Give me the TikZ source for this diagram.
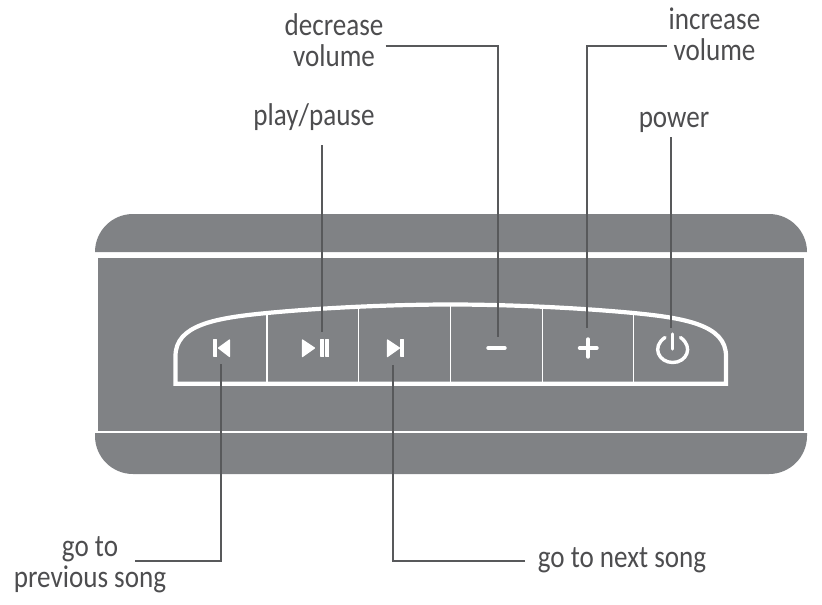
\documentclass[tikz,border=0pt]{standalone}
\usepackage{fontspec}
\setmainfont[FakeStretch=0.86]{Carlito}
\usepackage{tikz}
\usetikzlibrary{positioning}
\definecolor{casegrey}{HTML}{808285}
\definecolor{linegrey}{HTML}{58595B}
\definecolor{textgrey}{HTML}{4D4D4F}

\begin{document}
\begin{tikzpicture}
        [
            x=1pt, y=-1pt,
            lbl/.style={align=center, text=textgrey, inner sep=2pt, font=\fontsize{31.5}{31}\selectfont},
            callout/.style={draw=linegrey, line width=1.3pt},
            divider/.style={draw=white, line width=1.2pt},
            icon/.style={fill=white, draw=white, line width=1.2pt, line join=round},
            stroke/.style={draw=white, line width=3.4pt, line cap=round},
        ]
            \useasboundingbox (0,0) rectangle (822,605);

            % case
            \fill[casegrey] (95,252) [rounded corners=38pt] -- (95,214) -- (807,214) [sharp corners] -- (807,252) -- cycle;
            \fill[casegrey] (98,258) rectangle (804,430.5);
            \fill[casegrey] (95,433) [rounded corners=38pt] -- (95,474) -- (807,474) [sharp corners] -- (807,433) -- cycle;

            % button panel
            \foreach \x/\y in {267/314, 358.5/308, 450.5/305, 542.5/308, 633.5/314}
                \draw[divider] (\x,\y) -- (\x,383);
            \draw[draw=white, line width=4.2pt, line join=miter]
                (175.5,383.7) -- (175.5,356) .. controls (175.5,325) and (215,318) .. (267,313)
                .. controls (330,307) and (400,304.5) .. (450.5,304.5)
                .. controls (500,304.5) and (570,307) .. (633.5,313)
                .. controls (685,318) and (726,325) .. (726,356) -- (726,383.7) -- cycle;

            % icons
            \fill[icon] (214,339.5) rectangle (216.5,356.5);
            \fill[icon] (218.5,348) -- (229.5,340) -- (229.5,356.5) -- cycle;
            \fill[icon] (302.5,340) -- (302.5,356.5) -- (314.5,348) -- cycle;
            \fill[icon] (321,339.5) rectangle (323.5,356.5);
            \fill[icon] (326,339.5) rectangle (328.5,356.5);
            \fill[icon] (387.5,340) -- (387.5,356.5) -- (399.5,348) -- cycle;
            \fill[icon] (401,339.5) rectangle (403.5,356.5);
            \draw[stroke] (488,348) -- (505,348);
            \draw[stroke] (579.5,348) -- (597,348);
            \draw[stroke] (588,339) -- (588,357);
            \draw[stroke] (665,337.5) .. controls (651,347) and (659,362.5) .. (672.7,362.5)
                .. controls (686.5,362.5) and (694,347) .. (680.5,337.5);
            \draw[stroke] (672.7,334) -- (672.7,349);

            % labels
            \node[lbl] (Ldecrease) at (334,40.5) {decrease\\volume};
            \node[lbl] (Lincrease) at (714.5,34.5) {increase\\volume};
            \node[lbl] (Lplay) at (314,117) {play/pause};
            \node[lbl] (Lpower) at (674,122.5) {power};
            \node[lbl] (Lprev) at (90,565) {go to\\previous song};
            \node[lbl] (Lnext) at (622,560) {go to next song};

            % ends of the callouts
            \coordinate (Bdecrease) at (498,337);
            \coordinate (Bincrease) at (587,328);
            \coordinate (Bplay) at (322,332);
            \coordinate (Bpower) at (671,328);
            \coordinate (Bprev) at (221,364);
            \coordinate (Bnext) at (393,365);

            \draw[callout] ([yshift=-5.5pt]Ldecrease.east) -| (Bdecrease);
            \draw[callout] ([yshift=-11.5pt]Lincrease.west) -| (Bincrease);
            \draw[callout] (322,145) -- (Bplay);
            \draw[callout] (671,137) -- (Bpower);
            \draw[callout] (135,561) -| (Bprev);
            \draw[callout] (525,561) -| (Bnext);
        \end{tikzpicture}
\end{document}
